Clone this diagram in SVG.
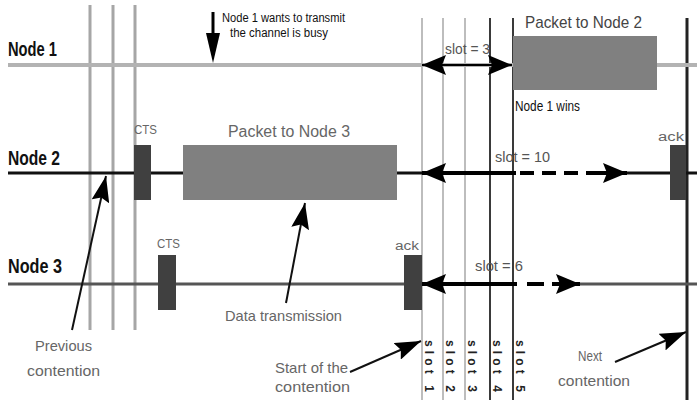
<svg xmlns="http://www.w3.org/2000/svg" width="697" height="403" viewBox="0 0 697 403">
<defs>
<style>
text{font-family:"Liberation Sans",Arial,sans-serif;}
.node{font-weight:bold;font-size:21px;fill:#111;}
.lbl{font-size:15px;fill:#666;}
.sm{font-size:12px;fill:#666;}
.blk{font-size:12px;fill:#111;}
.slot{font-size:12px;font-weight:bold;fill:#222;}
.vl{stroke:#bdbdbd;stroke-width:2;}
.vg{stroke:#a6a6a6;stroke-width:3;}
.vd{stroke:#3a3a3a;stroke-width:2;}
.pk{fill:#808080;}
.ctl{fill:#404040;}
.ann{stroke:#111;stroke-width:2;fill:none;marker-end:url(#ah);}
.tl{stroke:#000;stroke-width:4;fill:none;}
</style>
<marker id="th" viewBox="0 0 24 20" refX="24" refY="10" markerWidth="24" markerHeight="20" markerUnits="userSpaceOnUse" orient="auto-start-reverse">
<path d="M0,0 L24,10 L0,20 L4,10 z" fill="#000"/>
</marker>
<marker id="ah" viewBox="0 0 26 18" refX="26" refY="9" markerWidth="26" markerHeight="18" markerUnits="userSpaceOnUse" orient="auto">
<path d="M0,0 L26,9 L0,18 L4,9 z" fill="#000"/>
</marker>
</defs>
<rect width="697" height="403" fill="#fff"/>

<g id="grid">
<line class="vg" x1="90" y1="5" x2="90" y2="330"/>
<line class="vg" x1="113" y1="5" x2="113" y2="330"/>
<line class="vg" x1="135" y1="5" x2="135" y2="330"/>
<line class="vl" x1="422" y1="18" x2="422" y2="400"/>
<line class="vl" x1="443" y1="18" x2="443" y2="400"/>
<line class="vl" x1="465" y1="18" x2="465" y2="400"/>
<line class="vd" x1="490" y1="18" x2="490" y2="400"/>
<line class="vd" x1="513" y1="18" x2="513" y2="400"/>
<line x1="687" y1="18" x2="687" y2="400" stroke="#222" stroke-width="3"/>
</g>

<g id="node1">
<line x1="8" y1="65" x2="697" y2="65" stroke="#b3b3b3" stroke-width="4"/>
<text class="node" x="8" y="56" textLength="49" lengthAdjust="spacingAndGlyphs">Node 1</text>
<rect class="pk" x="513" y="36" width="144" height="54"/>
<text x="525" y="28" font-size="17" fill="#444" textLength="117" lengthAdjust="spacingAndGlyphs">Packet to Node 2</text>
<text x="515" y="111" font-size="14" fill="#111" textLength="65" lengthAdjust="spacingAndGlyphs">Node 1 wins</text>
<text x="445" y="54" font-size="14" fill="#555" textLength="45" lengthAdjust="spacingAndGlyphs">slot = 3</text>
</g>

<g id="node2">
<line x1="8" y1="173" x2="697" y2="173" stroke="#111" stroke-width="3"/>
<text class="node" x="8" y="165" textLength="52" lengthAdjust="spacingAndGlyphs">Node 2</text>
<rect class="ctl" x="134" y="145" width="17" height="55"/>
<text class="sm" x="134" y="134" textLength="23" lengthAdjust="spacingAndGlyphs">CTS</text>
<rect class="pk" x="183" y="145" width="214" height="55"/>
<text x="228" y="137" font-size="16" fill="#666" textLength="122" lengthAdjust="spacingAndGlyphs">Packet to Node 3</text>
<rect class="ctl" x="670" y="145" width="16" height="55"/>
<text class="sm" x="658" y="141" textLength="26" lengthAdjust="spacingAndGlyphs">ack</text>
<text x="495" y="162" font-size="14" fill="#555" textLength="55" lengthAdjust="spacingAndGlyphs">slot = 10</text>
</g>

<g id="node3">
<line x1="8" y1="284" x2="697" y2="284" stroke="#555" stroke-width="3"/>
<text class="node" x="8" y="273" textLength="54" lengthAdjust="spacingAndGlyphs">Node 3</text>
<rect class="ctl" x="158" y="255" width="18" height="55"/>
<text class="sm" x="157" y="248" textLength="23" lengthAdjust="spacingAndGlyphs">CTS</text>
<rect class="ctl" x="404" y="255" width="18" height="55"/>
<text class="sm" x="395" y="250" textLength="24" lengthAdjust="spacingAndGlyphs">ack</text>
<text x="475" y="271" font-size="14" fill="#555" textLength="48" lengthAdjust="spacingAndGlyphs">slot = 6</text>
</g>

<g id="slots">
<text class="slot" transform="translate(425,340) rotate(90)" textLength="52" lengthAdjust="spacing">slot 1</text>
<text class="slot" transform="translate(446,340) rotate(90)" textLength="52" lengthAdjust="spacing">slot 2</text>
<text class="slot" transform="translate(468,340) rotate(90)" textLength="52" lengthAdjust="spacing">slot 3</text>
<text class="slot" transform="translate(493,340) rotate(90)" textLength="52" lengthAdjust="spacing">slot 4</text>
<text class="slot" transform="translate(516,340) rotate(90)" textLength="52" lengthAdjust="spacing">slot 5</text>
</g>

<g id="annotations">
<text class="blk" x="222" y="22" textLength="123" lengthAdjust="spacingAndGlyphs">Node 1 wants to transmit</text>
<text class="blk" x="230" y="37" textLength="98" lengthAdjust="spacingAndGlyphs">the channel is busy</text>
<text class="lbl" x="35" y="351" fill="#777" textLength="57" lengthAdjust="spacingAndGlyphs">Previous</text>
<text class="lbl" x="27" y="376" fill="#777" textLength="73" lengthAdjust="spacingAndGlyphs">contention</text>
<text class="lbl" x="225" y="321" textLength="117" lengthAdjust="spacingAndGlyphs">Data transmission</text>
<text class="lbl" x="275" y="373" textLength="73" lengthAdjust="spacingAndGlyphs">Start of the</text>
<text class="lbl" x="275" y="392" textLength="75" lengthAdjust="spacingAndGlyphs">contention</text>
<text class="lbl" x="578" y="361" textLength="24" lengthAdjust="spacingAndGlyphs">Next</text>
<text class="lbl" x="558" y="386" textLength="72" lengthAdjust="spacingAndGlyphs">contention</text>
</g>

<g id="connectors">
<line x1="213" y1="12" x2="213" y2="40" stroke="#000" stroke-width="3"/>
<path d="M206,33 L220,33 L213,63 z" fill="#000"/>
<path class="ann" d="M72,330 L106,176"/>
<path class="ann" d="M286,303 L305,203"/>
<path class="ann" d="M350,372 L421,341"/>
<path class="ann" d="M615,362 L686,332"/>
<path d="M422,65 L512,65" stroke="#000" stroke-width="2" fill="none" marker-start="url(#th)" marker-end="url(#th)"/>
<path class="tl" d="M422,173 L516,173" marker-start="url(#th)"/>
<line x1="516" y1="173" x2="607" y2="173" stroke="#fff" stroke-width="5"/>
<path class="tl" d="M520,173 L604,173" stroke-dasharray="14 8"/>
<path class="tl" d="M600,173 L627,173" marker-end="url(#th)"/>
<path class="tl" d="M422,284 L517,284" marker-start="url(#th)"/>
<line x1="517" y1="284" x2="558" y2="284" stroke="#fff" stroke-width="5"/>
<path class="tl" d="M527,284 L544,284"/>
<path class="tl" d="M552,284 L580,284" marker-end="url(#th)"/>
</g>
</svg>
